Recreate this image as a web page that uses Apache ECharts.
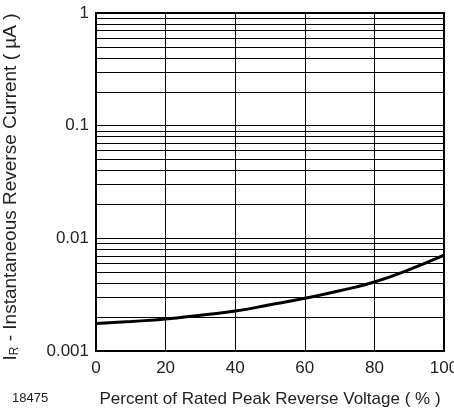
<!DOCTYPE html>
<html>
<head>
<meta charset="utf-8">
<script src="https://cdn.jsdelivr.net/npm/echarts@6/dist/echarts.min.js"></script>
<style>
  html, body { margin: 0; padding: 0; background: #fff; }
  #chart { width: 454px; height: 416px; }
</style>
</head>
<body>
<div id="chart"></div>
<script>
// percent of rated peak reverse voltage
var voltagePct = [0, 10, 20, 30, 40, 50, 60, 70, 80, 90, 100];
// reverse current in uA
var reverseCurrent = [0.00175, 0.00183, 0.00192, 0.00208, 0.00226, 0.00257, 0.00294, 0.00342, 0.0041, 0.00528, 0.0071];
var xTicks = [0, 20, 40, 60, 80, 100];
var yLabels = [0.001, 0.01, 0.1, 1];
var yGrid = [];
var d, k;
for (d = 0; d < 3; d++) {
    for (k = 1; k < 10; k++) {
        yGrid.push(+(k * Math.pow(10, d - 3)).toPrecision(3));
    }
}
yGrid.push(1);

function getSeriesData() {
    var i = 0;
    var points = [];
    for (i = 0; i < voltagePct.length; i++) {
        points.push([voltagePct[i], reverseCurrent[i]]);
    }
    return points;
}

var chart = echarts.init(document.getElementById('chart'));
var fontFamily = 'Liberation Sans, Arial, Helvetica, sans-serif';
var options = {
    animation: false,
    grid: {
        left: 96,
        right: 10,
        top: 13,
        bottom: 65,
        outerBoundsMode: 'none',
        containLabel: false,
        show: true,
        borderColor: '#000',
        borderWidth: 2,
        z: 5
    },
    xAxis: {
        type: 'value',
        min: 0,
        max: 100,
        interval: 20,
        name: 'Percent of Rated Peak Reverse Voltage ( % )',
        nameLocation: 'middle',
        nameGap: 40,
        nameTextStyle: { color: '#222', fontSize: 17, fontFamily: fontFamily },
        axisLine: { show: false },
        axisTick: { show: false },
        axisLabel: {
            color: '#222',
            fontSize: 17,
            fontFamily: fontFamily,
            margin: 9,
            customValues: xTicks
        },
        splitLine: { show: true, lineStyle: { color: '#000', width: 1 } }
    },
    yAxis: {
        type: 'log',
        logBase: 10,
        min: 0.001,
        max: 1,
        name: '{n|I}{sub|R}{n| - Instantaneous Reverse Current ( µA )}',
        nameLocation: 'middle',
        nameGap: 75,
        nameTextStyle: {
            padding: [0, 10, 0, 0],
            rich: {
                n: { color: '#222', fontSize: 19, fontFamily: fontFamily },
                sub: { color: '#222', fontSize: 12, fontFamily: fontFamily, verticalAlign: 'bottom', padding: [8, 0, 0, 0] }
            }
        },
        axisLine: { show: false },
        axisTick: { show: false, customValues: yGrid },
        axisLabel: {
            color: '#222',
            fontSize: 17,
            fontFamily: fontFamily,
            margin: 7,
            customValues: yLabels,
            formatter: function (v) { return String(v); }
        },
        splitLine: { show: true, lineStyle: { color: '#000', width: 1 } }
    },
    graphic: [
        {
            type: 'text',
            left: 12,
            top: 392,
            style: { text: '18475', fill: '#222', fontSize: 13, fontFamily: fontFamily }
        }
    ],
    series: [
        {
            type: 'line',
            smooth: true,
            symbol: 'none',
            data: getSeriesData(),
            lineStyle: { color: '#000', width: 3 },
            z: 3
        }
    ]
};
chart.setOption(options);
</script>
</body>
</html>
